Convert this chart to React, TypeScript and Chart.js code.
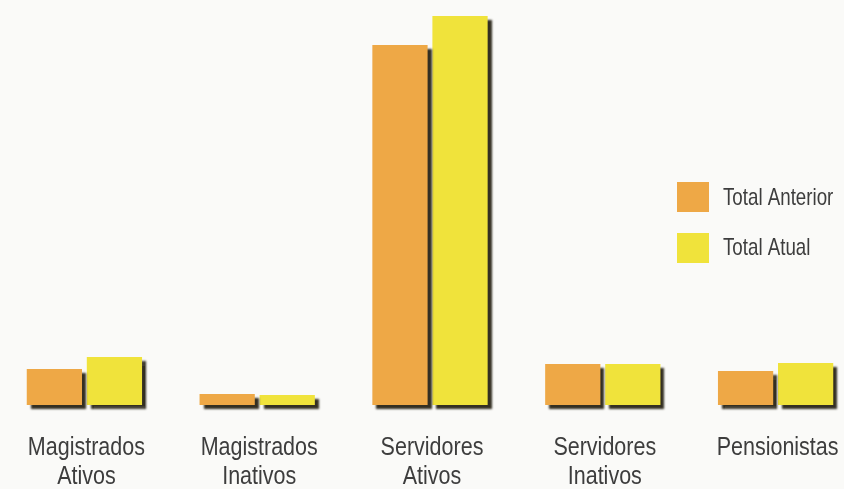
import React, { useEffect, useRef } from "react";
import { Chart, registerables } from "chart.js";

Chart.register(...registerables);

const categories: (string | string[])[] = [
  ["Magistrados", "Ativos"],
  ["Magistrados", "Inativos"],
  ["Servidores", "Ativos"],
  ["Servidores", "Inativos"],
  "Pensionistas",
];
const seriesNames = ["Total Anterior", "Total Atual"];
const totalAnterior = [36, 11, 360, 41, 34];
const totalAtual = [48, 10, 389, 41, 42];
const seriesColors = ["#EEA846", "#F0E33B"];

const FONT = '"Liberation Sans", Arial, sans-serif';
const TEXT = "#3d3d3d";
const OFFSET_X = 2;

// draws condensed text (Helvetica-Narrow look) with Liberation Sans
function drawNarrow(ctx: CanvasRenderingContext2D, text: string, x: number, y: number, sx: number, align: "left" | "center") {
  ctx.save();
  ctx.translate(x, y);
  ctx.scale(sx, 1);
  ctx.textAlign = align;
  ctx.textBaseline = "alphabetic";
  ctx.fillText(text, 0, 0);
  ctx.restore();
}

const shadowPlugin = {
  id: "barShadow",
  beforeDatasetsDraw(chart: any) {
    const ctx = chart.ctx;
    ctx.save();
    ctx.shadowColor = "rgba(40,36,22,0.95)";
    ctx.shadowOffsetX = 4;
    ctx.shadowOffsetY = 4;
    ctx.shadowBlur = 2;
  },
  afterDatasetsDraw(chart: any) {
    chart.ctx.restore();
  },
};

const labelPlugin = {
  id: "narrowLabels",
  afterDraw(chart: any) {
    const ctx = chart.ctx;
    const xScale = chart.scales.x;
    ctx.save();
    ctx.fillStyle = TEXT;
    ctx.font = `25px ${FONT}`;
    const labels = chart.data.labels as (string | string[])[];
    labels.forEach((lab, i) => {
      const cx = xScale.getPixelForTick(i) + 2;
      const lines = Array.isArray(lab) ? lab : [lab];
      lines.forEach((line, j) => {
        drawNarrow(ctx, line, cx, chart.chartArea.bottom + 50 + j * 29, 0.86, "center");
      });
    });
    // legend
    ctx.font = `24px ${FONT}`;
    chart.data.datasets.forEach((ds: any, i: number) => {
      const sx = 677 + OFFSET_X;
      const sy = 182 + i * 51;
      ctx.fillStyle = ds.backgroundColor;
      ctx.fillRect(sx, sy, 32, 30);
      ctx.fillStyle = TEXT;
      drawNarrow(ctx, ds.label, 723 + OFFSET_X, 205 + i * 50, 0.78, "left");
    });
    ctx.restore();
  },
};

export default function App() {
  const ref = useRef<HTMLCanvasElement>(null);

  useEffect(() => {
    if (!ref.current) return;
    const chart = new Chart(ref.current, {
      type: "bar",
      data: {
        labels: categories,
        datasets: [
          {
            label: seriesNames[0],
            data: totalAnterior,
            backgroundColor: seriesColors[0],
            borderWidth: 0,
            clip: false,
          },
          {
            label: seriesNames[1],
            data: totalAtual,
            backgroundColor: seriesColors[1],
            borderWidth: 0,
            clip: false,
          },
        ],
      },
      options: {
        responsive: false,
        animation: false,
        devicePixelRatio: 1,
        layout: { padding: { top: 5, left: 0, right: 0, bottom: 0 } },
        datasets: {
          bar: { categoryPercentage: 0.695, barPercentage: 0.92 },
        },
        plugins: {
          legend: { display: false },
          tooltip: { enabled: false },
        },
        scales: {
          x: {
            offset: true,
            grid: { display: false, drawTicks: false },
            border: { display: false },
            ticks: { display: false },
            afterFit(scale: any) {
              scale.height = 84;
              scale.paddingLeft = 0;
              scale.paddingRight = 0;
            },
          },
          y: {
            display: false,
            min: 0,
            max: 400,
          },
        },
      },
      plugins: [shadowPlugin, labelPlugin],
    });
    return () => chart.destroy();
  }, []);

  return (
    <div
      style={{
        position: "fixed",
        left: 0,
        top: 0,
        width: 844,
        height: 489,
        overflow: "hidden",
        background: "#FAFAF8",
      }}
    >
      <canvas
        ref={ref}
        width={864}
        height={489}
        style={{ position: "absolute", left: -OFFSET_X, top: 0, width: 864, height: 489 }}
      />
    </div>
  );
}
